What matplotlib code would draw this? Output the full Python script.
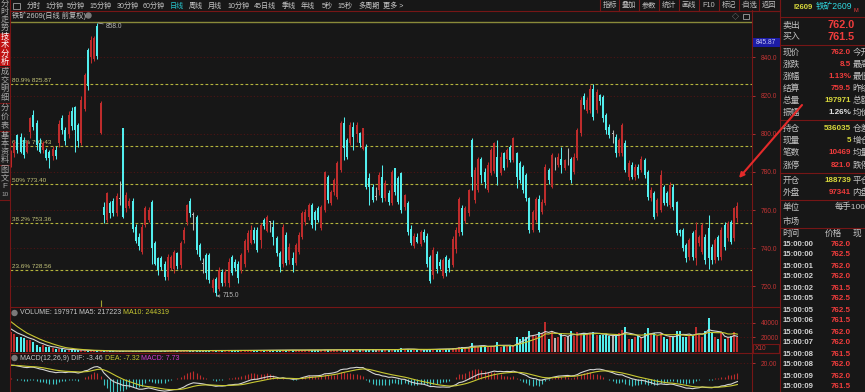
import numpy as np
import pandas as pd
import matplotlib
matplotlib.use('Agg')
import matplotlib.pyplot as plt
from matplotlib.patches import Rectangle, Circle

plt.rcParams['font.family'] = ['Liberation Sans', 'Noto Sans CJK SC', 'DejaVu Sans']

# daily candles of I2609
opens = [787.0, 789.7, 799.3, 798.5, 796.7, 790.6, 801.1, 809.8, 805.4, 795.0,
         791.5, 791.5, 790.6, 788.5, 791.5, 795.0, 808.0, 802.0, 800.0, 812.0,
         814.0, 804.5, 795.0, 813.0, 843.8, 840.0, 839.0, 856.5, 800.2, 761.8,
         754.8, 763.5, 765.0, 758.5, 766.0, 802.8, 761.0, 762.0, 765.0, 751.0,
         746.0, 738.0, 752.0, 754.8, 764.0, 743.0, 734.7, 734.7, 732.0, 725.0,
         729.5, 729.0, 737.3, 731.0, 744.3, 753.5, 765.0, 757.5, 756.5, 741.7,
         732.0, 736.5, 736.5, 719.0, 724.0, 718.5, 727.7, 721.6, 722.0, 735.3,
         733.0, 732.0, 728.6, 731.5, 739.0, 743.0, 749.6, 749.6, 744.3, 754.8,
         749.0, 754.0, 751.3, 745.2, 737.3, 732.0, 747.0, 733.8, 734.7, 732.1,
         738.2, 746.0, 754.0, 756.5, 762.7, 759.2, 760.9, 750.5, 760.0, 777.5,
         763.5, 769.6, 767.0, 781.0, 805.4, 796.7, 795.0, 803.7, 800.0, 800.2,
         792.0, 793.2, 776.6, 772.3, 767.0, 770.4, 777.5, 766.1, 768.8, 763.5,
         781.8, 776.6, 779.3, 761.8, 763.5, 750.0, 741.0, 746.0, 742.0, 748.5,
         746.5, 735.6, 726.1, 737.0, 733.0, 725.5, 735.5, 734.0, 731.3, 739.4,
         748.0, 761.0, 754.5, 758.3, 796.7, 765.3, 770.5, 787.0, 780.0, 770.5,
         779.3, 780.3, 788.0, 779.3, 789.7, 787.0, 793.0, 786.0, 789.7, 784.5,
         782.7, 778.4, 766.2, 749.6, 755.0, 766.0, 759.2, 763.5, 781.0, 772.3,
         785.0, 783.6, 787.0, 782.0, 786.5, 787.0, 780.0, 787.1, 800.2, 820.0,
         812.0, 812.4, 823.5, 812.4, 820.3, 819.0, 809.8, 803.7, 800.0, 798.5,
         789.7, 789.7, 795.0, 777.5, 783.6, 777.5, 782.7, 781.0, 786.0, 780.1,
         766.2, 768.8, 758.3, 760.0, 772.3, 768.8, 762.7, 772.3, 764.4, 749.6,
         749.6, 741.7, 735.6, 747.8, 734.7, 742.6, 738.2, 746.0, 750.5, 740.8,
         733.8, 746.0, 735.6, 752.2, 745.2, 754.0, 745.2, 755.7]
highs = [791.5, 796.7, 800.0, 800.2, 798.5, 796.7, 809.0, 812.4, 807.2, 797.5,
         796.0, 792.5, 791.5, 793.5, 793.5, 807.0, 810.0, 803.5, 812.0, 814.0,
         814.5, 805.5, 819.5, 832.0, 845.0, 851.0, 851.0, 858.0, 817.0, 764.4,
         769.7, 765.0, 766.5, 769.0, 775.0, 803.0, 769.7, 766.5, 766.5, 752.5,
         748.0, 752.5, 762.0, 761.5, 765.5, 744.0, 735.5, 736.0, 733.5, 737.0,
         736.5, 739.0, 738.0, 744.0, 751.0, 763.0, 766.5, 759.2, 757.5, 743.0,
         734.7, 737.5, 737.5, 724.5, 725.0, 730.0, 729.0, 729.0, 734.7, 736.5,
         734.5, 733.5, 737.5, 745.0, 749.6, 752.0, 751.0, 751.0, 753.0, 756.0,
         757.5, 754.5, 754.8, 746.5, 738.5, 752.5, 748.6, 742.5, 738.2, 742.7,
         748.5, 759.5, 760.5, 763.5, 763.5, 760.0, 762.0, 762.5, 780.5, 778.5,
         770.5, 777.0, 785.5, 806.5, 809.0, 798.0, 806.0, 806.3, 806.3, 801.0,
         803.0, 794.5, 779.3, 773.5, 772.3, 780.0, 783.6, 775.8, 770.5, 781.0,
         782.0, 778.0, 780.1, 768.5, 764.5, 752.0, 748.0, 748.0, 749.5, 750.0,
         748.0, 736.5, 740.8, 738.5, 734.5, 735.0, 736.5, 735.0, 746.5, 751.0,
         767.0, 762.5, 762.0, 771.0, 797.5, 782.5, 788.0, 788.0, 782.0, 785.0,
         792.5, 795.8, 796.7, 790.6, 790.6, 792.3, 794.0, 798.5, 790.6, 785.5,
         783.5, 779.3, 767.0, 760.0, 767.0, 768.0, 766.0, 784.0, 782.0, 790.0,
         788.0, 789.7, 793.2, 787.0, 792.3, 788.0, 789.7, 803.0, 819.0, 821.5,
         819.0, 825.5, 826.0, 823.5, 821.0, 820.5, 811.0, 805.0, 802.0, 800.0,
         798.0, 805.5, 796.5, 786.0, 785.0, 784.0, 784.0, 788.5, 787.5, 781.0,
         772.0, 770.0, 766.5, 781.0, 773.0, 770.0, 774.5, 773.5, 765.0, 750.0,
         750.5, 742.5, 745.5, 749.0, 754.0, 747.0, 753.0, 747.5, 757.5, 742.0,
         745.5, 747.0, 751.0, 753.5, 754.5, 755.0, 761.8, 764.4]
lows = [782.5, 788.0, 789.7, 789.7, 787.1, 789.7, 798.0, 802.0, 791.5, 789.7,
        790.0, 786.0, 781.9, 786.0, 786.5, 793.0, 800.0, 794.0, 798.0, 802.0,
        790.6, 793.0, 794.0, 812.0, 823.0, 837.0, 838.0, 839.0, 800.0, 753.0,
        753.9, 756.0, 757.0, 757.0, 762.7, 756.0, 759.0, 761.0, 748.6, 742.5,
        739.0, 737.0, 751.0, 754.0, 732.0, 731.0, 726.0, 728.6, 723.4, 723.4,
        728.6, 727.0, 729.0, 729.5, 743.0, 752.0, 756.6, 749.6, 737.0, 734.0,
        726.9, 724.0, 721.6, 717.0, 715.0, 717.5, 720.0, 720.0, 719.8, 726.0,
        728.0, 721.6, 727.0, 730.0, 738.0, 742.0, 743.0, 738.0, 740.0, 750.0,
        748.5, 748.7, 741.7, 736.0, 727.7, 730.0, 731.0, 732.0, 727.7, 731.0,
        737.0, 745.0, 752.0, 755.0, 750.5, 749.6, 753.5, 749.5, 759.0, 763.5,
        762.5, 768.0, 766.0, 780.0, 786.2, 787.0, 794.0, 791.5, 795.8, 793.2,
        791.5, 771.0, 762.7, 764.0, 765.3, 768.0, 764.4, 765.0, 762.7, 762.5,
        768.0, 763.0, 758.3, 760.0, 747.0, 741.7, 740.0, 742.5, 741.0, 743.5,
        730.0, 721.6, 724.0, 727.0, 729.0, 724.5, 725.5, 727.7, 730.0, 737.5,
        746.5, 747.0, 753.0, 757.0, 770.5, 763.5, 769.5, 774.0, 771.4, 769.5,
        778.4, 779.5, 773.0, 778.4, 781.0, 782.7, 785.0, 785.0, 771.4, 774.0,
        769.0, 765.0, 748.0, 748.5, 754.0, 748.5, 758.0, 762.5, 773.5, 771.4,
        781.0, 782.7, 779.3, 781.0, 783.6, 774.0, 779.0, 786.0, 799.0, 813.0,
        811.0, 811.0, 807.0, 811.0, 815.0, 806.0, 800.0, 798.0, 795.0, 788.0,
        788.5, 788.5, 780.0, 776.0, 776.5, 776.0, 777.0, 780.0, 777.0, 765.5,
        765.0, 755.5, 757.0, 759.0, 762.5, 762.0, 761.0, 760.0, 747.0, 746.5,
        738.5, 733.0, 734.0, 733.8, 731.3, 741.0, 737.0, 732.0, 729.0, 732.0,
        732.5, 734.0, 734.0, 739.0, 744.0, 742.0, 744.0, 754.0]
closes = [790.5, 795.0, 791.5, 790.6, 788.9, 795.0, 808.1, 803.7, 794.1, 790.6,
          795.0, 787.5, 787.1, 792.0, 788.5, 805.0, 802.0, 796.0, 810.0, 804.0,
          802.0, 796.0, 817.5, 831.0, 825.0, 849.0, 850.0, 840.5, 816.0, 757.4,
          768.8, 758.3, 758.5, 767.5, 766.0, 756.6, 768.0, 765.0, 750.0, 744.0,
          741.0, 751.0, 761.0, 760.0, 740.0, 732.0, 728.6, 730.0, 725.0, 735.6,
          735.5, 738.0, 730.5, 743.0, 749.5, 762.5, 758.3, 757.5, 739.0, 735.6,
          732.0, 727.0, 723.5, 723.4, 716.8, 728.6, 721.6, 727.7, 733.0, 727.0,
          729.5, 724.5, 736.5, 744.0, 748.0, 749.6, 744.3, 739.2, 752.2, 751.5,
          756.5, 754.0, 746.0, 737.4, 730.0, 751.3, 732.1, 740.8, 731.2, 741.7,
          747.0, 758.3, 759.2, 762.7, 752.2, 754.8, 754.8, 761.8, 780.0, 765.3,
          769.6, 775.8, 784.5, 805.8, 792.3, 788.0, 804.6, 798.4, 804.6, 795.0,
          802.8, 772.3, 772.3, 765.3, 767.0, 778.4, 766.1, 774.0, 764.4, 780.0,
          769.6, 764.4, 760.0, 767.9, 748.7, 743.0, 746.5, 743.5, 748.5, 744.5,
          732.0, 723.0, 739.0, 729.0, 730.5, 733.8, 727.0, 729.5, 745.0, 749.6,
          766.0, 748.7, 761.2, 770.4, 777.5, 781.0, 787.0, 778.4, 774.5, 783.6,
          791.5, 795.0, 777.5, 788.0, 782.0, 791.5, 786.0, 797.5, 777.5, 775.8,
          770.5, 766.2, 749.6, 759.0, 766.0, 749.6, 764.4, 782.7, 775.6, 788.9,
          785.0, 788.0, 783.6, 786.0, 786.5, 776.0, 788.0, 801.9, 817.7, 815.0,
          817.7, 823.5, 809.0, 822.0, 817.0, 808.1, 802.0, 799.3, 800.0, 789.7,
          796.7, 804.6, 781.0, 784.5, 777.5, 782.7, 778.4, 787.0, 778.4, 767.0,
          770.5, 756.5, 765.3, 778.4, 763.5, 763.5, 773.0, 761.8, 748.0, 747.8,
          740.0, 734.7, 744.3, 735.6, 749.6, 746.0, 752.2, 733.8, 734.7, 733.8,
          744.3, 735.6, 749.6, 740.8, 753.0, 743.5, 761.0, 762.0]

# volume in units of 10 lots (the axis is marked X10)
volumes = [27000, 24600, 20800, 21000, 18600, 16200, 16000, 13900, 9500, 7000,
           9000, 6500, 6800, 4600, 4000, 3000, 4200, 2300, 2800, 2300, 2500,
           2000, 1800, 1500, 1300, 1200, 1400, 1600,
           900, 700, 800, 600, 700, 500, 600, 800, 700, 600, 700, 800, 600, 700, 900, 800, 700, 600,
           1000, 1200, 900, 1300, 1100, 1000, 1400, 1200, 1300, 1500,
           1100, 1200, 1400, 1600, 1300, 1500, 1700, 1400, 1600, 1800,
           1500, 1300, 1600, 1400, 1700, 1500, 1800, 1600, 1400, 1900,
           1700, 1500, 1800, 2000, 1600,
           1800, 2000, 1700, 2200, 1900, 2100, 2400, 2000, 1800, 2200,
           2500, 2100, 1900, 2300, 2600, 2200, 2000, 2800, 2400, 2200,
           2600, 2900, 2500, 2300, 2700, 2400, 2200, 2600, 3000, 2700,
           2500, 2800, 3100, 2600, 2400, 2900, 2700, 3200, 2800, 2600, 3000,
           4600, 4200, 3500, 2600, 2400, 2200, 2500, 2800, 3200, 3600, 3400, 3800, 3300, 3600, 4000, 3800,
           4600, 5500, 7000, 6000, 5000, 6500, 12500, 7800, 7000, 7500,
           6900, 7200, 8000, 7600, 13900, 7000, 7800, 8200, 7400, 8500,
           20000, 17200, 20900, 21000, 29300, 23200, 21800, 27900, 25500, 41900,
           17200, 29300, 18600, 20000, 25500, 20000, 21800, 29300, 21800, 27900,
           24000, 25500, 26500, 25500, 27900, 23200, 23200, 23200, 23200, 21800,
           21800, 21800, 25500, 30200, 34900, 17200, 17200, 20000, 21800, 20000,
           25500, 32500, 25500, 26500, 21800, 25500, 20000, 17200, 21800, 20000,
           29300, 29300, 20000, 20900, 23200, 21800, 34900, 23200, 20000, 29300,
           46500, 27900, 20000, 17200, 25500, 17200, 20000, 21800, 27900, 19797]
# bars just left of the window, only so the MA lines start where they do
vol_before = [60000, 55000, 52000, 48000, 45000, 38000, 35000, 30000, 28000]

# MACD(12,26,9) state carried in from the bars left of the window
ema12_start, ema26_start, dea_start = 781.0, 763.0, 17.0

fib_labels = ['23.6%', '38.2%', '50%', '61.8%', '80.9%']
fib_values = [728.56, 753.36, 773.40, 793.43, 825.87]
fib_top = 858.3
price_ticks = [720, 740, 760, 780, 800, 820, 840]
vol_ticks = [20000, 40000]
macd_ticks = [20]
roll_marker = 28

toolbar = ['分时', '1分钟', '5分钟', '15分钟', '30分钟', '60分钟', '日线', '周线', '月线',
           '10分钟', '45日线', '季线', '年线', '5秒', '15秒', '多周期', '更多 >']
toolbar_x = [27, 45, 67, 90, 117, 143, 170, 189, 208, 228, 254, 282, 301, 322, 338, 358, 383]
buttons = ['指标', '叠加', '参数', '统计', '画线', 'F10', '标记', '·自选', '返回']
button_edges = [600, 619, 639, 659, 679, 699, 719, 739, 759, 780]
side_tabs = [['分', '时', '走', '势'], ['技', '术', '分', '析'], ['成', '交', '明', '细'],
             ['分', '价', '表'], ['基', '本', '资', '料'], ['图', '文', 'F', '10']]
side_spans = [(0, 32), (33, 66), (68, 102), (104, 130), (132, 164), (166, 199)]

q_names = ['现价', '涨跌', '涨幅', '结算', '总量', '振幅']
q_vals = ['762.0', '8.5', '1.13%', '759.5', '197971', '1.26%']
q_kind = ['r', 'r', 'r', 'r', 'y', 'w']
q_more = ['今开', '最高', '最低', '昨结', '总额', '均价']
p_names = ['持仓', '现量', '笔数', '涨停']
p_vals = ['536035', '5', '10469', '821.0']
p_kind = ['y', 'y', 'r', 'r']
p_more = ['仓差', '增仓', '均量', '跌停']
o_names = ['开仓', '外盘']
o_vals = ['188739', '97341']
o_kind = ['y', 'r']
o_more = ['平仓', '内盘']
trade_times = ['15:00:00', '15:00:00', '15:00:01', '15:00:02', '15:00:02', '15:00:05', '15:00:05',
               '15:00:06', '15:00:06', '15:00:07', '15:00:08', '15:00:08', '15:00:09', '15:00:09']
trade_prices = ['762.0', '762.5', '762.0', '762.0', '761.5', '762.5', '762.5',
                '761.5', '762.0', '762.0', '761.5', '762.0', '762.0', '761.5']

W, H = 865, 392
BG = '#171717'
RED = '#be2c2c'
CYAN = '#52eeee'
GRAY = '#b4b4b4'
TXT = '#c4c4c4'
LINE = '#761616'
GRID = '#4e1414'
AXRED = '#c23434'
VRED = '#f03c3c'
YEL = '#d8d83c'
kind_col = {'r': VRED, 'y': YEL, 'w': '#e0e0e0'}

o = np.array(opens)
c = np.array(closes)
hi = np.array(highs)
lo = np.array(lows)
idx = np.arange(len(c))
cols = np.where(c > o, RED, np.where(c < o, CYAN, GRAY))

fig = plt.figure(figsize=(W / 100, H / 100), dpi=100, facecolor=BG)
ax = fig.add_axes([10 / W, 1 - 307 / H, 742 / W, 287 / H], facecolor=BG)
axv = fig.add_axes([10 / W, 1 - 352 / H, 742 / W, 45 / H], facecolor=BG)
axm = fig.add_axes([10 / W, 0, 742 / W, 40 / H], facecolor=BG)
for a in (ax, axv, axm):
    for s in a.spines.values():
        s.set_visible(False)
    a.set_xlim(-0.31, 231.56)
    a.yaxis.tick_right()
    a.tick_params(axis='x', bottom=False, labelbottom=False)
    a.tick_params(axis='y', colors=AXRED, labelcolor=AXRED, labelsize=4.8,
                  length=2.2, width=0.6, pad=4.0)
    a.grid(axis='y', color=GRID, ls=(0, (1, 2)), lw=0.8)
    a.set_axisbelow(True)

# main price pane
ax.set_ylim(709.23, 859.57)
ax.set_yticks(price_ticks)
ax.set_yticklabels([f'{v:.1f}' for v in price_ticks])
ax.axhline(fib_top, color='#8a8a3a', lw=1.0, zorder=2)
for lab, v in zip(fib_labels, fib_values):
    ax.axhline(v, color='#b4b43c', lw=0.8, ls=(0, (2.5, 2)), zorder=2)
    ax.text(0.003, v + 0.6, f'{lab} {v:.2f}', transform=ax.get_yaxis_transform(),
            color='#c4c47a', fontsize=4.6, va='bottom', ha='left', zorder=2.5)
ax.vlines(idx, lo, hi, colors=cols, lw=0.75, zorder=3)
ax.bar(idx, np.maximum(np.abs(c - o), 0.35), bottom=np.minimum(o, c), width=0.64,
       color=cols, linewidth=0, zorder=3)
ax.vlines(roll_marker, 709.23, 712.8, colors='#a0a032', lw=0.8, zorder=3)
ih, il = int(np.argmax(hi)), int(np.argmin(lo))
ax.annotate(f'{hi[ih]:.1f}', xy=(ih + 0.3, hi[ih]), xytext=(ih + 2.7, hi[ih] - 1.6),
            color='#b8b8b8', fontsize=4.8, va='center',
            arrowprops=dict(arrowstyle='-', color='#b8b8b8', lw=0.5, shrinkA=0, shrinkB=0))
ax.annotate(f'{lo[il]:.1f}', xy=(il + 0.3, lo[il]), xytext=(il + 2.2, lo[il]),
            color='#b8b8b8', fontsize=4.8, va='center',
            arrowprops=dict(arrowstyle='->', color='#b8b8b8', lw=0.5, shrinkA=0,
                            shrinkB=0, mutation_scale=4))

# volume pane
vol = np.array(volumes)
full = pd.Series(vol_before + volumes, dtype=float)
ma5 = full.rolling(5).mean().to_numpy()[len(vol_before):]
ma10 = full.rolling(10).mean().to_numpy()[len(vol_before):]
axv.set_ylim(-560, 62377)
axv.set_yticks(vol_ticks)
axv.set_yticklabels([str(v) for v in vol_ticks])
axv.bar(idx, vol, width=0.64, color=cols, linewidth=0, zorder=3)
axv.plot(idx, ma5, color='#d4d4d4', lw=0.8, zorder=4)
axv.plot(idx, ma10, color='#c8c832', lw=0.8, zorder=4)

# MACD pane
ema_f, ema_s, dea = ema12_start, ema26_start, dea_start
difs, deas = [], []
for cl in closes:
    ema_f = ema_f * 11 / 13 + cl * 2 / 13
    ema_s = ema_s * 25 / 27 + cl * 2 / 27
    d = ema_f - ema_s
    dea = dea * 0.8 + d * 0.2
    difs.append(d)
    deas.append(dea)
difs = np.array(difs)
deas = np.array(deas)
hist = 2 * (difs - deas)
axm.set_ylim(-17.05, 34.23)
axm.set_yticks(macd_ticks)
axm.set_yticklabels([f'{v:.2f}' for v in macd_ticks])
axm.vlines(idx, 0, hist, colors=np.where(hist >= 0, RED, '#3cc4c4'), lw=0.8, zorder=3)
axm.plot(idx, difs, color='#d4d4d4', lw=0.8, zorder=4)
axm.plot(idx, deas, color='#c8c832', lw=0.8, zorder=4)

# overlay in pixel coordinates for the terminal frame
ov = fig.add_axes([0, 0, 1, 1], zorder=10)
ov.set_xlim(0, W)
ov.set_ylim(H, 0)
ov.axis('off')
ov.patch.set_alpha(0)


def txt(x, y, s, color=TXT, size=5.0, ha='left', weight='normal'):
    ov.text(x, y, s, color=color, fontsize=size, ha=ha, va='center', fontweight=weight)


def hline(y, x0, x1, color=LINE, lw=0.8):
    ov.plot([x0, x1], [y, y], color=color, lw=lw)


def vline(x, y0, y1, color=LINE, lw=0.8):
    ov.plot([x, x], [y0, y1], color=color, lw=lw)


# frame lines
vline(10, 0, H)
vline(752, 10, H)
vline(780, 0, H)
hline(10.5, 10, 780)
hline(307, 10, 780)
hline(352.5, 10, 780)

# left tabs
ov.add_patch(Rectangle((0, 0), 9.5, 200, color='#1d1d1d', lw=0))
for k, (chars, (y0, y1)) in enumerate(zip(side_tabs, side_spans)):
    active = k == 1
    if active:
        ov.add_patch(Rectangle((0, y0), 9.5, y1 - y0, color='#c01212', lw=0))
    step = (y1 - y0) / len(chars)
    for j, ch in enumerate(chars):
        txt(4.8, y0 + (j + 0.5) * step, ch, color='#ffffff' if active else '#a8a8a8',
            size=5.9 if ch != '10' else 4.6, ha='center')
    hline(y1 + 0.8, 0, 9.5)

# toolbar
ov.add_patch(Rectangle((13, 2.5), 6.5, 6, fill=False, ec='#a0a0a0', lw=0.6))
for s, x in zip(toolbar, toolbar_x):
    txt(x, 6, s, color='#28c8d0' if s == '日线' else '#c8c8c8', size=5.1)
for k, s in enumerate(buttons):
    txt((button_edges[k] + button_edges[k + 1]) / 2, 5.5, s, color='#c0c0c0', size=5.2, ha='center')
for x in button_edges:
    vline(x, 0, 11)
hline(11, 600, 780)

# title row
txt(12, 15.5, '铁矿2609(日线 前复权)', color='#c8c8c8', size=5.2)
ov.add_patch(Circle((88.5, 15.5), 2.5, color='#7a7a7a'))
txt(735, 16.5, '◇', color='#a0a0a0', size=5.0, ha='center')
ov.add_patch(Rectangle((743, 13.5), 6, 5.5, fill=False, ec='#a0a0a0', lw=0.6))

# pane headers
ov.add_patch(Circle((14.5, 313), 2.5, color='#7a7a7a'))
txt(20, 313, 'VOLUME: 197971', color='#c8c8c8', size=5.0)
txt(79, 313, 'MA5: 217223', color='#c8c8c8', size=5.0)
txt(123, 313, 'MA10: 244319', color='#c8c832', size=5.0)
ov.add_patch(Circle((14.5, 358), 2.5, color='#7a7a7a'))
txt(20, 358, 'MACD(12,26,9) DIF: -3.46', color='#c8c8c8', size=5.0)
txt(105, 358, 'DEA: -7.32', color='#c8c832', size=5.0)
txt(141, 358, 'MACD: 7.73', color='#d03cd0', size=5.0)

# axis boxes
ov.add_patch(Rectangle((752.5, 37.5), 27, 9.5, color='#1c1ca6', lw=0))
txt(766, 42.3, '845.87', color='#c8c8f4', size=4.8, ha='center')
ov.add_patch(Rectangle((752.5, 343.5), 26, 9, fill=False, ec=LINE, lw=0.8))
txt(754.5, 348, 'X10', color=AXRED, size=4.8)

# right quote panel
txt(793, 7, 'I2609', color=YEL, size=5.6, weight='bold')
txt(816, 7, '铁矿2609', color='#30d8e0', size=6.2)
txt(853, 10, 'M', color=VRED, size=4.0)
for y in (16.5, 45, 120, 172.5, 199.5, 227.5):
    hline(y, 780, W)
txt(782.5, 25, '卖出', size=6.4)
txt(855, 25, '762.0', color=VRED, size=7.8, ha='right', weight='bold')
txt(782.5, 37, '买入', size=6.4)
txt(855, 37, '761.5', color=VRED, size=7.8, ha='right', weight='bold')
for names, vals, kinds, more, y0, step in ((q_names, q_vals, q_kind, q_more, 52, 12),
                                           (p_names, p_vals, p_kind, p_more, 128.5, 12.2),
                                           (o_names, o_vals, o_kind, o_more, 180.5, 12)):
    for j in range(len(names)):
        y = y0 + j * step
        txt(782.5, y, names[j], size=6.2)
        txt(851, y, vals[j], color=kind_col[kinds[j]], size=5.8, ha='right', weight='bold')
        # the third column runs past the window edge, as in the terminal
        txt(852.5, y, more[j], size=6.2)
txt(782.5, 207, '单位', size=6.2)
txt(835, 207, '每手100', size=6.0)
txt(782.5, 221, '市场', size=6.2)
txt(782.5, 233, '时间', size=6.2)
txt(825, 233, '价格', size=6.2)
txt(852.5, 233, '现', size=6.2)
for j, (tm, pr) in enumerate(zip(trade_times, trade_prices)):
    y = 244 + j * 11
    txt(782.5, y, tm, color='#d4d4d4', size=5.6, weight='bold')
    txt(851, y, pr, color=VRED, size=5.8, ha='right', weight='bold')

# red arrow drawn over the screenshot
ov.annotate('', xy=(739, 178), xytext=(802, 105),
            arrowprops=dict(arrowstyle='-|>', color='#e42a2a', lw=1.5, mutation_scale=7,
                            shrinkA=0, shrinkB=0))

fig.savefig('out.png', dpi=100, facecolor=BG)
